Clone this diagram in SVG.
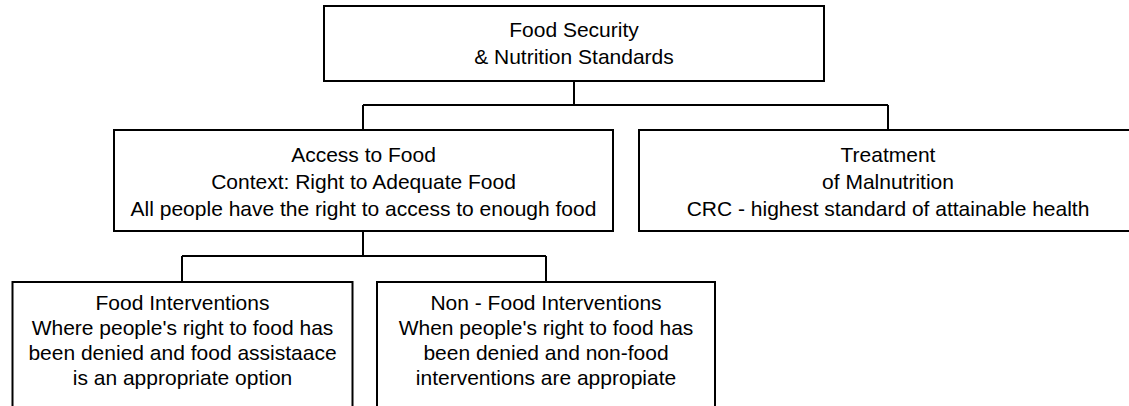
<svg xmlns="http://www.w3.org/2000/svg" width="1129" height="406" viewBox="0 0 1129 406">
<style>
.box{fill:#fff;stroke:#000;stroke-width:2}
.con{fill:none;stroke:#000;stroke-width:2}
text{font-family:"Liberation Sans",Arial,sans-serif;font-size:21px;fill:#000;text-anchor:middle}
</style>
<rect width="1129" height="406" fill="#fff"/>
<g id="connectors">
<path class="con" d="M574 81V105M363 105H888M363 105V130M888 105V130"/>
<path class="con" d="M363 231V256M182 256H546M182 256V282M546 256V282"/>
</g>
<g id="node-top">
<rect class="box" x="324" y="6" width="500" height="75"/>
<text x="574" y="37">Food Security</text>
<text x="574" y="64">&amp; Nutrition Standards</text>
</g>
<g id="node-access">
<rect class="box" x="114" y="130" width="499" height="101"/>
<text x="363.5" y="162">Access to Food</text>
<text x="363.5" y="189">Context: Right to Adequate Food</text>
<text x="363.5" y="216">All people have the right to access to enough food</text>
</g>
<g id="node-treatment">
<rect class="box" x="639" y="130" width="498" height="101"/>
<text x="888" y="162">Treatment</text>
<text x="888" y="189">of Malnutrition</text>
<text x="888" y="216">CRC - highest standard of attainable health</text>
</g>
<g id="node-food">
<rect class="box" x="12.5" y="282" width="340" height="130"/>
<text x="182.5" y="310">Food Interventions</text>
<text x="182.5" y="335">Where people's right to food has</text>
<text x="182.5" y="360">been denied and food assistaace</text>
<text x="182.5" y="385">is an appropriate option</text>
</g>
<g id="node-nonfood">
<rect class="box" x="377" y="282" width="338" height="130"/>
<text x="546" y="310">Non - Food Interventions</text>
<text x="546" y="335">When people's right to food has</text>
<text x="546" y="360">been denied and non-food</text>
<text x="546" y="385">interventions are appropiate</text>
</g>
</svg>
